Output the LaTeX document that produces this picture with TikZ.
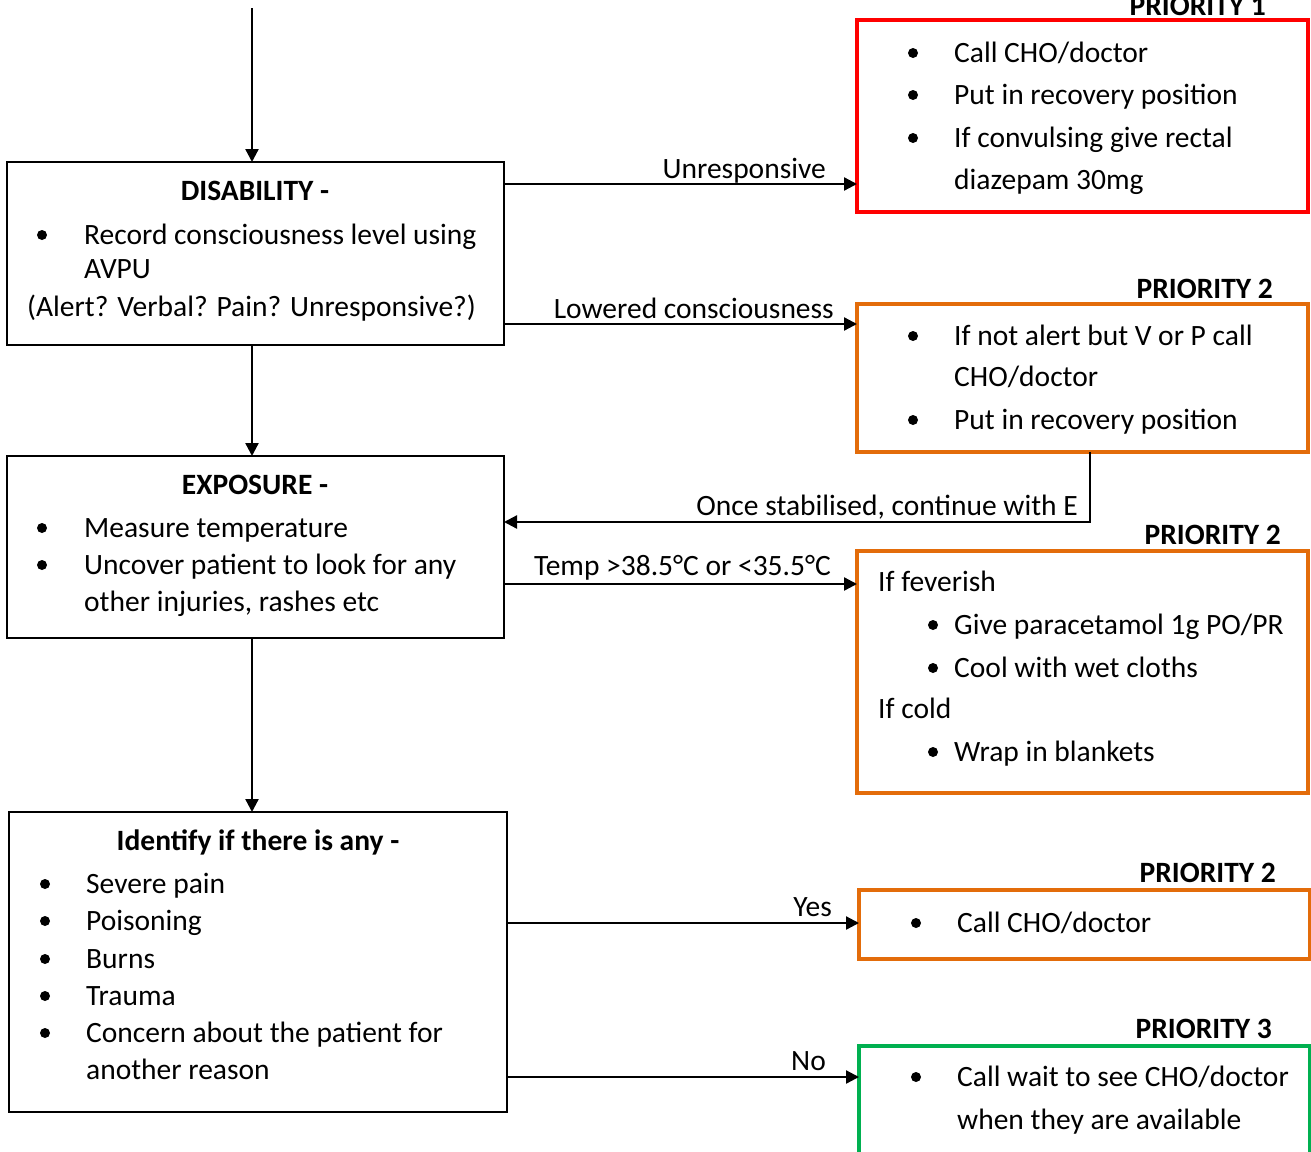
\documentclass[tikz,border=0pt]{standalone}
\usepackage{fontspec}
\setmainfont{Carlito}
\usetikzlibrary{arrows.meta}
\definecolor{pred}{HTML}{FF0000}
\definecolor{porange}{HTML}{E36C0A}
\definecolor{pgreen}{HTML}{00B050}
\tikzset{
  box/.style={draw=black, line width=2.3pt, inner sep=0pt, outer sep=0pt},
  pbox/.style={draw=#1, line width=3.4pt, inner sep=0pt, outer sep=0pt},
  txt/.style={anchor=base west, inner sep=0pt, font=\fontsize{29.5}{34}\selectfont},
  hdr/.style={anchor=base, inner sep=0pt, font=\fontsize{29.5}{34}\selectfont\bfseries},
  lbl/.style={anchor=base east, inner sep=0pt, font=\fontsize{29.5}{34}\selectfont},
  plbl/.style={anchor=base east, inner sep=0pt, font=\fontsize{29.5}{34}\selectfont\bfseries},
  bul/.style={circle, fill=black, inner sep=0pt, minimum size=10pt},
  arr/.style={line width=2.3pt, -{Triangle[length=13pt,width=13pt]}},
}
\newcommand\tline[4]{\node[txt] (#1) at (#2,#3) {#4};}
\newcommand\bdot[3]{\node[bul] (#1) at (#2,#3) {};}
\begin{document}
\begin{tikzpicture}[x=1pt,y=-1pt]
\clip (0,0) rectangle (1311,1151);
\fill[white] (0,0) rectangle (1311,1151);

% main boxes
\node[box, minimum width=497pt, minimum height=183pt] (dis) at (255.5,253.5) {};
\node[box, minimum width=497pt, minimum height=182pt] (exp) at (255.5,547) {};
\node[box, minimum width=498pt, minimum height=300pt] (idf) at (258,962) {};

% priority boxes
\node[pbox=pred, minimum width=451pt, minimum height=192pt] (p1) at (1082.5,116) {};
\node[pbox=porange, minimum width=451pt, minimum height=148pt] (p2a) at (1082.5,378) {};
\node[pbox=porange, minimum width=451pt, minimum height=242pt] (p2b) at (1082.5,672) {};
\node[pbox=porange, minimum width=451pt, minimum height=69pt] (p2c) at (1084.5,924.5) {};
\node[pbox=pgreen, minimum width=451pt, minimum height=230pt] (p3) at (1084.5,1161) {};

% priority labels
\node[plbl] (l1) at (1266,15) {PRIORITY 1};
\node[plbl] (l2a) at (1273,298) {PRIORITY 2};
\node[plbl] (l2b) at (1281,544) {PRIORITY 2};
\node[plbl] (l2c) at (1276,882) {PRIORITY 2};
\node[plbl] (l3) at (1272,1038) {PRIORITY 3};

% disability text
\node[hdr] (dish) at (255,200) {DISABILITY -};
\bdot{db1}{42}{235}
\tline{dt1}{84}{244}{Record consciousness level using}
\tline{dt2}{84}{278}{AVPU}
\tline{dt3}{27}{316}{(Alert? Verbal? Pain? Unresponsive?)}

% exposure text
\node[hdr] (exph) at (255,494) {EXPOSURE -};
\bdot{eb1}{42}{528}
\tline{et1}{84}{537}{Measure temperature}
\bdot{eb2}{42}{565}
\tline{et2}{84}{574}{Uncover patient to look for any}
\tline{et3}{84}{611}{other injuries, rashes etc}

% identify text
\node[hdr] (idfh) at (258,850) {Identify if there is any -};
\bdot{ib1}{45}{884}
\tline{it1}{86}{893}{Severe pain}
\bdot{ib2}{45}{921}
\tline{it2}{86}{930}{Poisoning}
\bdot{ib3}{45}{959}
\tline{it3}{86}{968}{Burns}
\bdot{ib4}{45}{996}
\tline{it4}{86}{1005}{Trauma}
\bdot{ib5}{45}{1033}
\tline{it5}{86}{1042}{Concern about the patient for}
\tline{it6}{86}{1079}{another reason}

% priority 1 text
\bdot{ab1}{913}{53}
\tline{at1}{954}{62}{Call CHO/doctor}
\bdot{ab2}{913}{95}
\tline{at2}{954}{104}{Put in recovery position}
\bdot{ab3}{913}{138}
\tline{at3}{954}{147}{If convulsing give rectal}
\tline{at4}{954}{189}{diazepam 30mg}

% priority 2a text
\bdot{bb1}{913}{336}
\tline{bt1}{954}{345}{If not alert but V or P call}
\tline{bt2}{954}{386}{CHO/doctor}
\bdot{bb2}{913}{420}
\tline{bt3}{954}{429}{Put in recovery position}

% priority 2b text
\tline{ct1}{878}{591}{If feverish}
\bdot{cb1}{933}{625}
\tline{ct2}{954}{634}{Give paracetamol 1g PO/PR}
\bdot{cb2}{933}{668}
\tline{ct3}{954}{677}{Cool with wet cloths}
\tline{ct4}{878}{718}{If cold}
\bdot{cb3}{933}{752}
\tline{ct5}{954}{761}{Wrap in blankets}

% priority 2c text
\bdot{db}{916}{923}
\tline{dt}{957}{932}{Call CHO/doctor}

% priority 3 text
\bdot{eb}{916}{1077}
\tline{ett1}{957}{1086}{Call wait to see CHO/doctor}
\tline{ett2}{957}{1129}{when they are available}

% connectors
\coordinate (top) at (252,8);
\draw[arr] (top) -- (top |- dis.north);
\draw[arr] (dis.south -| top) -- (exp.north -| top);
\draw[arr] (exp.south -| top) -- (idf.north -| top);

\draw[arr] ([yshift=-22pt]dis.north east) -- ([yshift=-22pt]dis.north east -| p1.west);
\node[lbl] (ul) at (826,178) {Unresponsive};

\draw[arr] ([yshift=21pt]dis.south east) -- ([yshift=21pt]dis.south east -| p2a.west);
\node[lbl] (ll) at (834,318) {Lowered consciousness};

\coordinate (ret) at (1090,522);
\draw[arr] (p2a.south -| ret) -- (ret) -- (ret -| exp.east);
\node[lbl] (rl) at (1078,515) {Once stabilised, continue with E};

\draw[arr] ([yshift=-128pt]exp.north east) -- ([yshift=-128pt]exp.north east -| p2b.west);
\node[lbl] (tl) at (831,575) {Temp >38.5°C or <35.5°C};

\draw[arr] ([yshift=-111pt]idf.north east) -- ([yshift=-111pt]idf.north east -| p2c.west);
\node[lbl] (yl) at (832,916) {Yes};

\draw[arr] ([yshift=35pt]idf.south east) -- ([yshift=35pt]idf.south east -| p3.west);
\node[lbl] (nl) at (826,1070) {No};
\end{tikzpicture}
\end{document}
